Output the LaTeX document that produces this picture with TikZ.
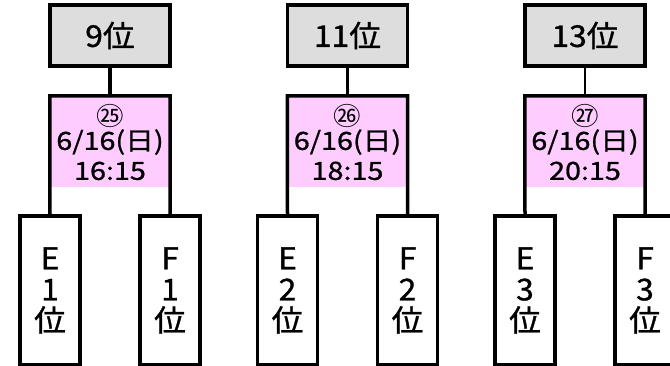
\documentclass[tikz,border=0pt]{standalone}
\usepackage{fontspec}
\setmainfont{Noto Sans CJK JP}[FakeBold=1,FakeStretch=1.06]
\newfontfamily\gamefont{Noto Sans CJK JP}[FakeBold=1,FakeStretch=1.15]
\newfontfamily\circfont{Noto Sans CJK JP}[FakeStretch=1.1]
\definecolor{rankgrey}{HTML}{DDDDDD}
\definecolor{gamepink}{HTML}{FFCCFF}
\tikzset{
	rankbox/.style={draw,line width=3.5pt,fill=rankgrey,minimum width=120pt,minimum height=61pt,inner sep=0pt,font=\fontsize{30}{32}\selectfont},
	gamebox/.style={fill=gamepink,minimum width=120pt,minimum height=91pt,inner sep=0pt,align=center,font=\gamefont\fontsize{25}{30}\selectfont},
	teambox/.style={draw,line width=3.5pt,minimum width=60pt,minimum height=149pt,inner sep=0pt,align=center,font=\fontsize{30}{31}\selectfont},
}
% numero du match, cercle
\newcommand{\gameno}[1]{{\circfont\fontsize{25}{30}\selectfont\smash{\raisebox{-6pt}{#1}}\rule{0pt}{17pt}}}

\begin{document}
\begin{tikzpicture}[x=1pt,y=-1pt]
			%page 670 x 366, y vers le bas
			\useasboundingbox (0,0) rectangle (670,366);

			\foreach \n/\cx/\rk/\no/\tm/\lw in {1/110/9/㉕/16:15/3.5, 2/347.5/11/㉖/18:15/3.5, 3/585/13/㉗/20:15/2}{
				\node[teambox] (e\n) at (\cx-60,290.5) {E\\\n\\位};
				\node[teambox] (f\n) at (\cx+60,290.5) {F\\\n\\位};
				\node[gamebox] (game\n) at (\cx,141.5) {\gameno{\no}\\6/16(日)\\\tm};
				\node[rankbox] (rank\n) at (\cx,35.5) {\rk 位};
				\draw[line width=\lw pt] (rank\n) -- (game\n);
				\draw[line width=3.5pt] (e\n.north) -- (game\n.north west) -- (game\n.north east) -- (f\n.north);
			}
\end{tikzpicture}
\end{document}
